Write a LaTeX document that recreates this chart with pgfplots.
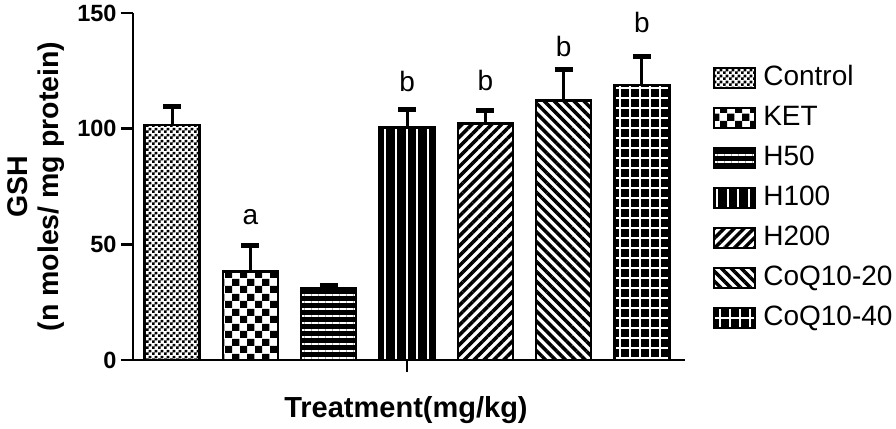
\documentclass[border=0pt]{standalone}
\usepackage{fontspec}
\setmainfont{Liberation Sans}
\usepackage{pgfplots}
\pgfplotsset{compat=1.18}
\usetikzlibrary{patterns,patterns.meta}

\pgfdeclarepatternformonly{finecheck}{\pgfpointorigin}{\pgfqpoint{5.6pt}{5.6pt}}{\pgfqpoint{5.6pt}{5.6pt}}{%
  \pgfpathrectangle{\pgfpointorigin}{\pgfqpoint{2.8pt}{2.8pt}}%
  \pgfpathrectangle{\pgfqpoint{2.8pt}{2.8pt}}{\pgfqpoint{2.8pt}{2.8pt}}%
  \pgfusepath{fill}}
\pgfdeclarepatternformonly{bigcheck}{\pgfpointorigin}{\pgfqpoint{15pt}{15pt}}{\pgfqpoint{15pt}{15pt}}{%
  \pgfpathrectangle{\pgfpointorigin}{\pgfqpoint{7.5pt}{7.5pt}}%
  \pgfpathrectangle{\pgfqpoint{7.5pt}{7.5pt}}{\pgfqpoint{7.5pt}{7.5pt}}%
  \pgfusepath{fill}}

\begin{document}
\begin{tikzpicture}
\useasboundingbox (-133pt,-68pt) rectangle (763pt,360pt);
\begin{axis}[
  at={(0pt,0pt)}, anchor=south west,
  width=552pt, height=347pt, scale only axis,
  xmin=0.5, xmax=7.55, ymin=0, ymax=150,
  axis x line*=bottom, axis y line*=left,
  axis line style={line width=2.5pt, -},
  ybar, bar width=55pt, bar shift=0pt,
  ytick={0,50,100,150}, xtick={4}, xticklabels={},
  tick align=outside, major tick length=12pt,
  tick style={line width=2.5pt, black},
  /pgf/number format/assume math mode=true,
  yticklabel style={font=\bfseries\fontsize{23.5}{23.5}\selectfont, xshift=-1pt},
  ylabel={GSH\\(n moles/ mg protein)},
  ylabel style={at={([xshift=-97pt]axis description cs:0,0.5)}, anchor=center, align=center, font=\bfseries\fontsize{28.5}{31}\selectfont},
  xlabel={Treatment(mg/kg)},
  xlabel style={at={([xshift=-3pt,yshift=-50pt]axis description cs:0.5,0)}, anchor=center, font=\bfseries\fontsize{29}{29}\selectfont},
  clip=false,
  error bars/y dir=plus, error bars/y explicit,
  error bars/error mark=|,
  error bars/error bar style={line width=3pt, black},
  error bars/error mark options={mark size=9pt, line width=5pt, black},
  legend image code/.code={\draw[#1, line width=2pt] (0pt,-10pt) rectangle (41pt,10pt);},
  legend style={at={(rel axis cs:1.05,0.85)}, anchor=north west, draw=none, fill=none,
    inner sep=0pt, row sep=14pt, font=\fontsize{28}{28}\selectfont,
    nodes={inner ysep=0pt, inner xsep=7.5pt, text height=20pt, text depth=6pt}},
  legend cell align=left,
]
\addplot[draw=black, line width=2.5pt, pattern=finecheck, pattern color=black, bar shift=0pt]
  coordinates {(1,101.5) +- (0,8.0)};
\addlegendentry{Control}
\addplot[draw=black, line width=2.5pt, pattern=bigcheck, pattern color=black, bar shift=0pt]
  coordinates {(2,38.2) +- (0,11.1)};
\addlegendentry{KET}
\addplot[draw=black, line width=2.5pt, fill=black, postaction={pattern={Lines[angle=0,distance=7pt,line width=2pt]}, pattern color=white}, bar shift=0pt]
  coordinates {(3,31.0) +- (0,1.4)};
\addlegendentry{H50}
\addplot[draw=black, line width=2.5pt, fill=black, postaction={pattern={Lines[angle=90,distance=10.7pt,line width=1.8pt]}, pattern color=white}, bar shift=0pt]
  coordinates {(4,100.6) +- (0,7.5)};
\addlegendentry{H100}
\addplot[draw=black, line width=2.5pt, pattern={Lines[angle=45,distance=7pt,line width=3.5pt]}, pattern color=black, bar shift=0pt]
  coordinates {(5,102.3) +- (0,5.5)};
\addlegendentry{H200}
\addplot[draw=black, line width=2.5pt, pattern={Lines[angle=-45,distance=7pt,line width=3.5pt]}, pattern color=black, bar shift=0pt]
  coordinates {(6,112.1) +- (0,13.3)};
\addlegendentry{CoQ10-20}
\addplot[draw=black, line width=2.5pt, fill=black, postaction={pattern={Hatch[angle=0,distance=10pt,line width=1.5pt]}, pattern color=white}, bar shift=0pt]
  coordinates {(7,118.9) +- (0,12.5)};
\addlegendentry{CoQ10-40}
\draw[line width=2.5pt] ([xshift=-11pt]rel axis cs:0,0) -- (rel axis cs:0,0);
\node[anchor=base, font=\fontsize{28}{28}\selectfont] at (axis cs:2,58.4) {a};
\node[anchor=base, font=\fontsize{28}{28}\selectfont] at (axis cs:4,115.9) {b};
\node[anchor=base, font=\fontsize{28}{28}\selectfont] at (axis cs:5,116.7) {b};
\node[anchor=base, font=\fontsize{28}{28}\selectfont] at (axis cs:6,131.0) {b};
\node[anchor=base, font=\fontsize{28}{28}\selectfont] at (axis cs:7,141.4) {b};
\end{axis}
\end{tikzpicture}
\end{document}
